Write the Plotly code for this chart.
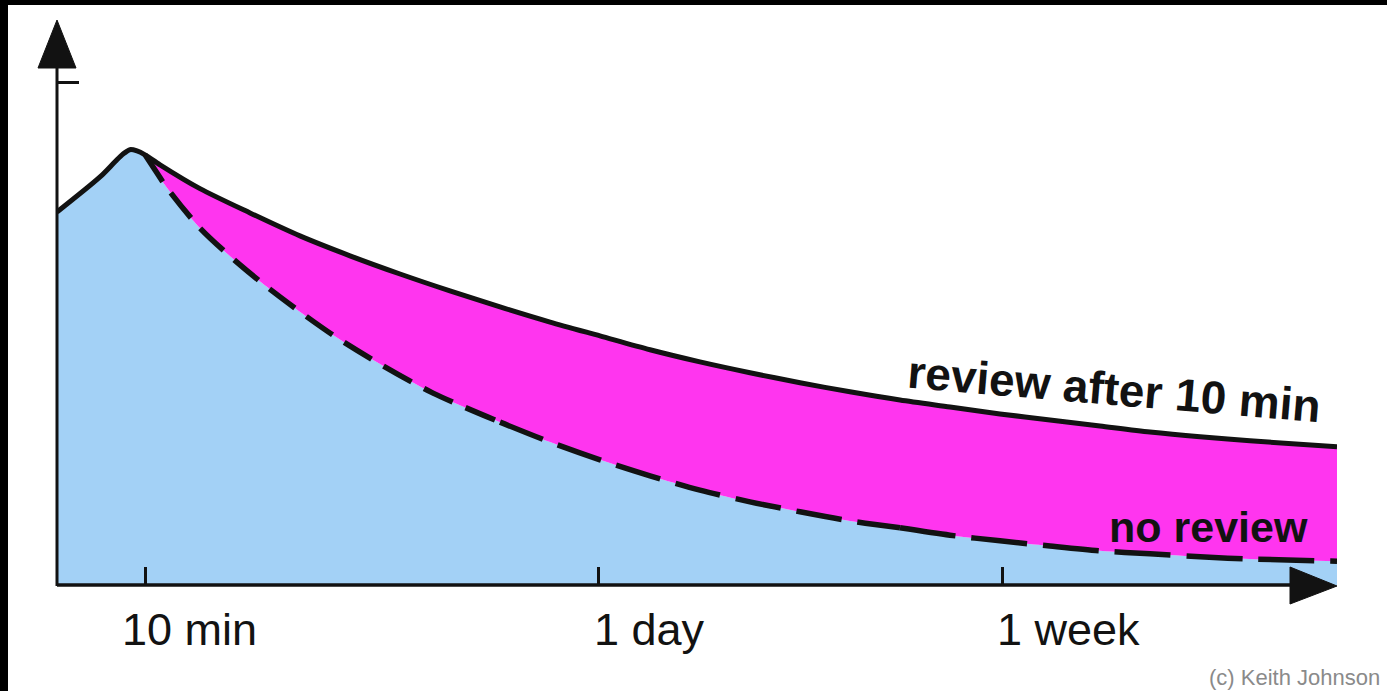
import plotly.graph_objects as go

# ---------------- data (schematic forgetting curves) ----------------
# x: relative time position (0..100), y: relative retention
review_x = [0.0, 3.36, 4.53, 5.16, 5.70, 6.25, 6.88, 8.05, 11.17, 15.08, 18.98, 22.89,
            26.80, 30.70, 34.61, 38.52, 42.42, 46.33, 50.23, 54.14, 58.05, 61.95,
            65.86, 69.77, 73.67, 77.58, 81.48, 85.39, 89.30, 93.20, 100.0]
review_y = [86.1, 94.2, 97.7, 99.5, 100.5, 100.2, 99.3, 97.0, 91.5, 85.9, 80.6, 76.0,
            71.8, 67.9, 64.2, 60.7, 57.5, 54.3, 51.5, 49.0, 46.7, 44.6,
            42.7, 41.1, 39.5, 38.1, 36.7, 35.3, 34.2, 33.3, 31.9]

no_review_x = [6.88, 7.66, 8.59, 11.17, 14.30, 17.42, 21.56, 25.47, 29.38, 34.61,
               38.52, 42.42, 46.33, 50.23, 54.14, 58.05, 61.95, 65.86, 69.77, 73.67,
               77.58, 81.48, 85.39, 89.30, 93.20, 100.0]
no_review_y = [99.3, 95.8, 91.7, 82.4, 73.9, 66.5, 57.7, 50.6, 44.3, 37.6,
               33.0, 28.9, 25.2, 21.9, 19.2, 16.9, 14.8, 13.2, 11.5, 10.2,
               9.0, 7.9, 7.2, 6.5, 6.0, 5.5]

# shared rising part (before the two curves split)
shared_x = [0.0, 3.36, 4.53, 5.16, 5.70, 6.25]
shared_y = [86.1, 94.2, 97.7, 99.5, 100.5, 100.2]

tick_positions = [6.9, 42.3, 73.9]
tick_labels = ["10 min", "1 day", "1 week"]
series_labels = ["review after 10 min", "no review"]
credit = "(c) Keith Johnson"

# ---------------- layout geometry ----------------
W, H = 1387, 691
L, R, T, B = 57, 50, 60, 106
PW, PH = W - L - R, H - T - B
Y_TOP = 121.2

def px(xp):
    return (xp - L) / PW

def py(yp):
    return (H - B - yp) / PH

BLUE = "#a3d1f6"
MAGENTA = "#ff35ef"
INK = "#121212"

fig = go.Figure()

# blue area under the "no review" curve
fig.add_trace(go.Scatter(
    x=shared_x + no_review_x, y=shared_y + no_review_y,
    mode="lines", line=dict(width=0, color=BLUE, shape="spline", smoothing=0.8),
    fill="tozeroy", fillcolor=BLUE, hoverinfo="skip", showlegend=False))

# magenta band between the curves
fig.add_trace(go.Scatter(
    x=review_x, y=review_y, mode="lines",
    line=dict(width=0, color=MAGENTA, shape="spline", smoothing=0.8),
    fill="tonexty", fillcolor=MAGENTA, hoverinfo="skip", showlegend=False))

# dashed no-review line, in three stretches with growing dash length
n = len(no_review_x)
segments = [(0, 10, "32px,14px"), (9, 18, "46px,16px"), (17, n, "56px,16px")]
for i0, i1, dash in segments:
    fig.add_trace(go.Scatter(
        x=no_review_x[i0:i1], y=no_review_y[i0:i1], mode="lines",
        line=dict(color=INK, width=5.5, dash=dash, shape="spline", smoothing=0.8),
        name=series_labels[1], hoverinfo="skip", showlegend=False))

# solid review line
fig.add_trace(go.Scatter(
    x=review_x, y=review_y, mode="lines",
    line=dict(color=INK, width=5, shape="spline", smoothing=0.8),
    name=series_labels[0], hoverinfo="skip", showlegend=False))

shapes = [
    # axis lines
    dict(type="line", xref="paper", yref="paper", x0=px(57), x1=px(1300), y0=py(585), y1=py(585),
         line=dict(color=INK, width=3.5)),
    dict(type="line", xref="paper", yref="paper", x0=px(57), x1=px(57), y0=py(586), y1=py(60),
         line=dict(color=INK, width=3)),
    # arrow heads
    dict(type="path", xref="paper", yref="paper",
         path=f"M {px(57)} {py(20)} L {px(38)} {py(68)} L {px(76)} {py(68)} Z",
         fillcolor=INK, line=dict(color=INK, width=1)),
    dict(type="path", xref="paper", yref="paper",
         path=f"M {px(1337)} {py(586)} L {px(1290)} {py(567)} L {px(1290)} {py(604)} Z",
         fillcolor=INK, line=dict(color=INK, width=1)),
    # black scan border (top and left)
    dict(type="rect", xref="paper", yref="paper", x0=px(0), x1=px(W), y0=py(0), y1=py(5),
         fillcolor="black", line=dict(width=0), layer="above"),
    dict(type="rect", xref="paper", yref="paper", x0=px(0), x1=px(8), y0=py(0), y1=py(H),
         fillcolor="black", line=dict(width=0), layer="above"),
]

font_main = "Liberation Sans, Arial, Helvetica, sans-serif"
annotations = []
label_left = [120, 592, 995]
for lab, xl in zip(tick_labels, label_left):
    annotations.append(dict(text=lab, xref="paper", yref="paper", x=px(xl), y=py(629),
                            xanchor="left", yanchor="middle", showarrow=False,
                            font=dict(family=font_main, size=45, color=INK)))
annotations.append(dict(text=series_labels[0], xref="paper", yref="paper", x=px(1114), y=py(389),
                        xanchor="center", yanchor="middle", showarrow=False, textangle=4.8,
                        font=dict(family=font_main, size=46, color=INK, weight="bold")))
annotations.append(dict(text=series_labels[1], xref="paper", yref="paper", x=px(1208), y=py(527),
                        xanchor="center", yanchor="middle", showarrow=False,
                        font=dict(family=font_main, size=43, color=INK, weight="bold")))
annotations.append(dict(text=credit, xref="paper", yref="paper", x=px(1382), y=py(677),
                        xanchor="right", yanchor="middle", showarrow=False,
                        font=dict(family=font_main, size=22, color="#8a8a8a")))

fig.update_layout(
    width=W, height=H,
    margin=dict(l=L, r=R, t=T, b=B, pad=0),
    paper_bgcolor="white", plot_bgcolor="white",
    showlegend=False,
    shapes=shapes, annotations=annotations,
    xaxis=dict(range=[0, 100], showgrid=False, zeroline=False, showline=False,
               tickmode="array", tickvals=tick_positions, ticktext=tick_labels,
               showticklabels=False, ticks="inside", ticklen=18, tickwidth=3,
               tickcolor=INK, fixedrange=True),
    yaxis=dict(range=[0, Y_TOP], showgrid=False, zeroline=False, showline=False,
               tickmode="array", tickvals=[115.9], showticklabels=False,
               ticks="inside", ticklen=22, tickwidth=3, tickcolor=INK, fixedrange=True),
)

fig.write_html(
    "out.html",
    config={"displayModeBar": False},
    post_script="document.body.style.margin='0';document.documentElement.style.overflow='hidden';document.body.style.overflow='hidden';",
)
